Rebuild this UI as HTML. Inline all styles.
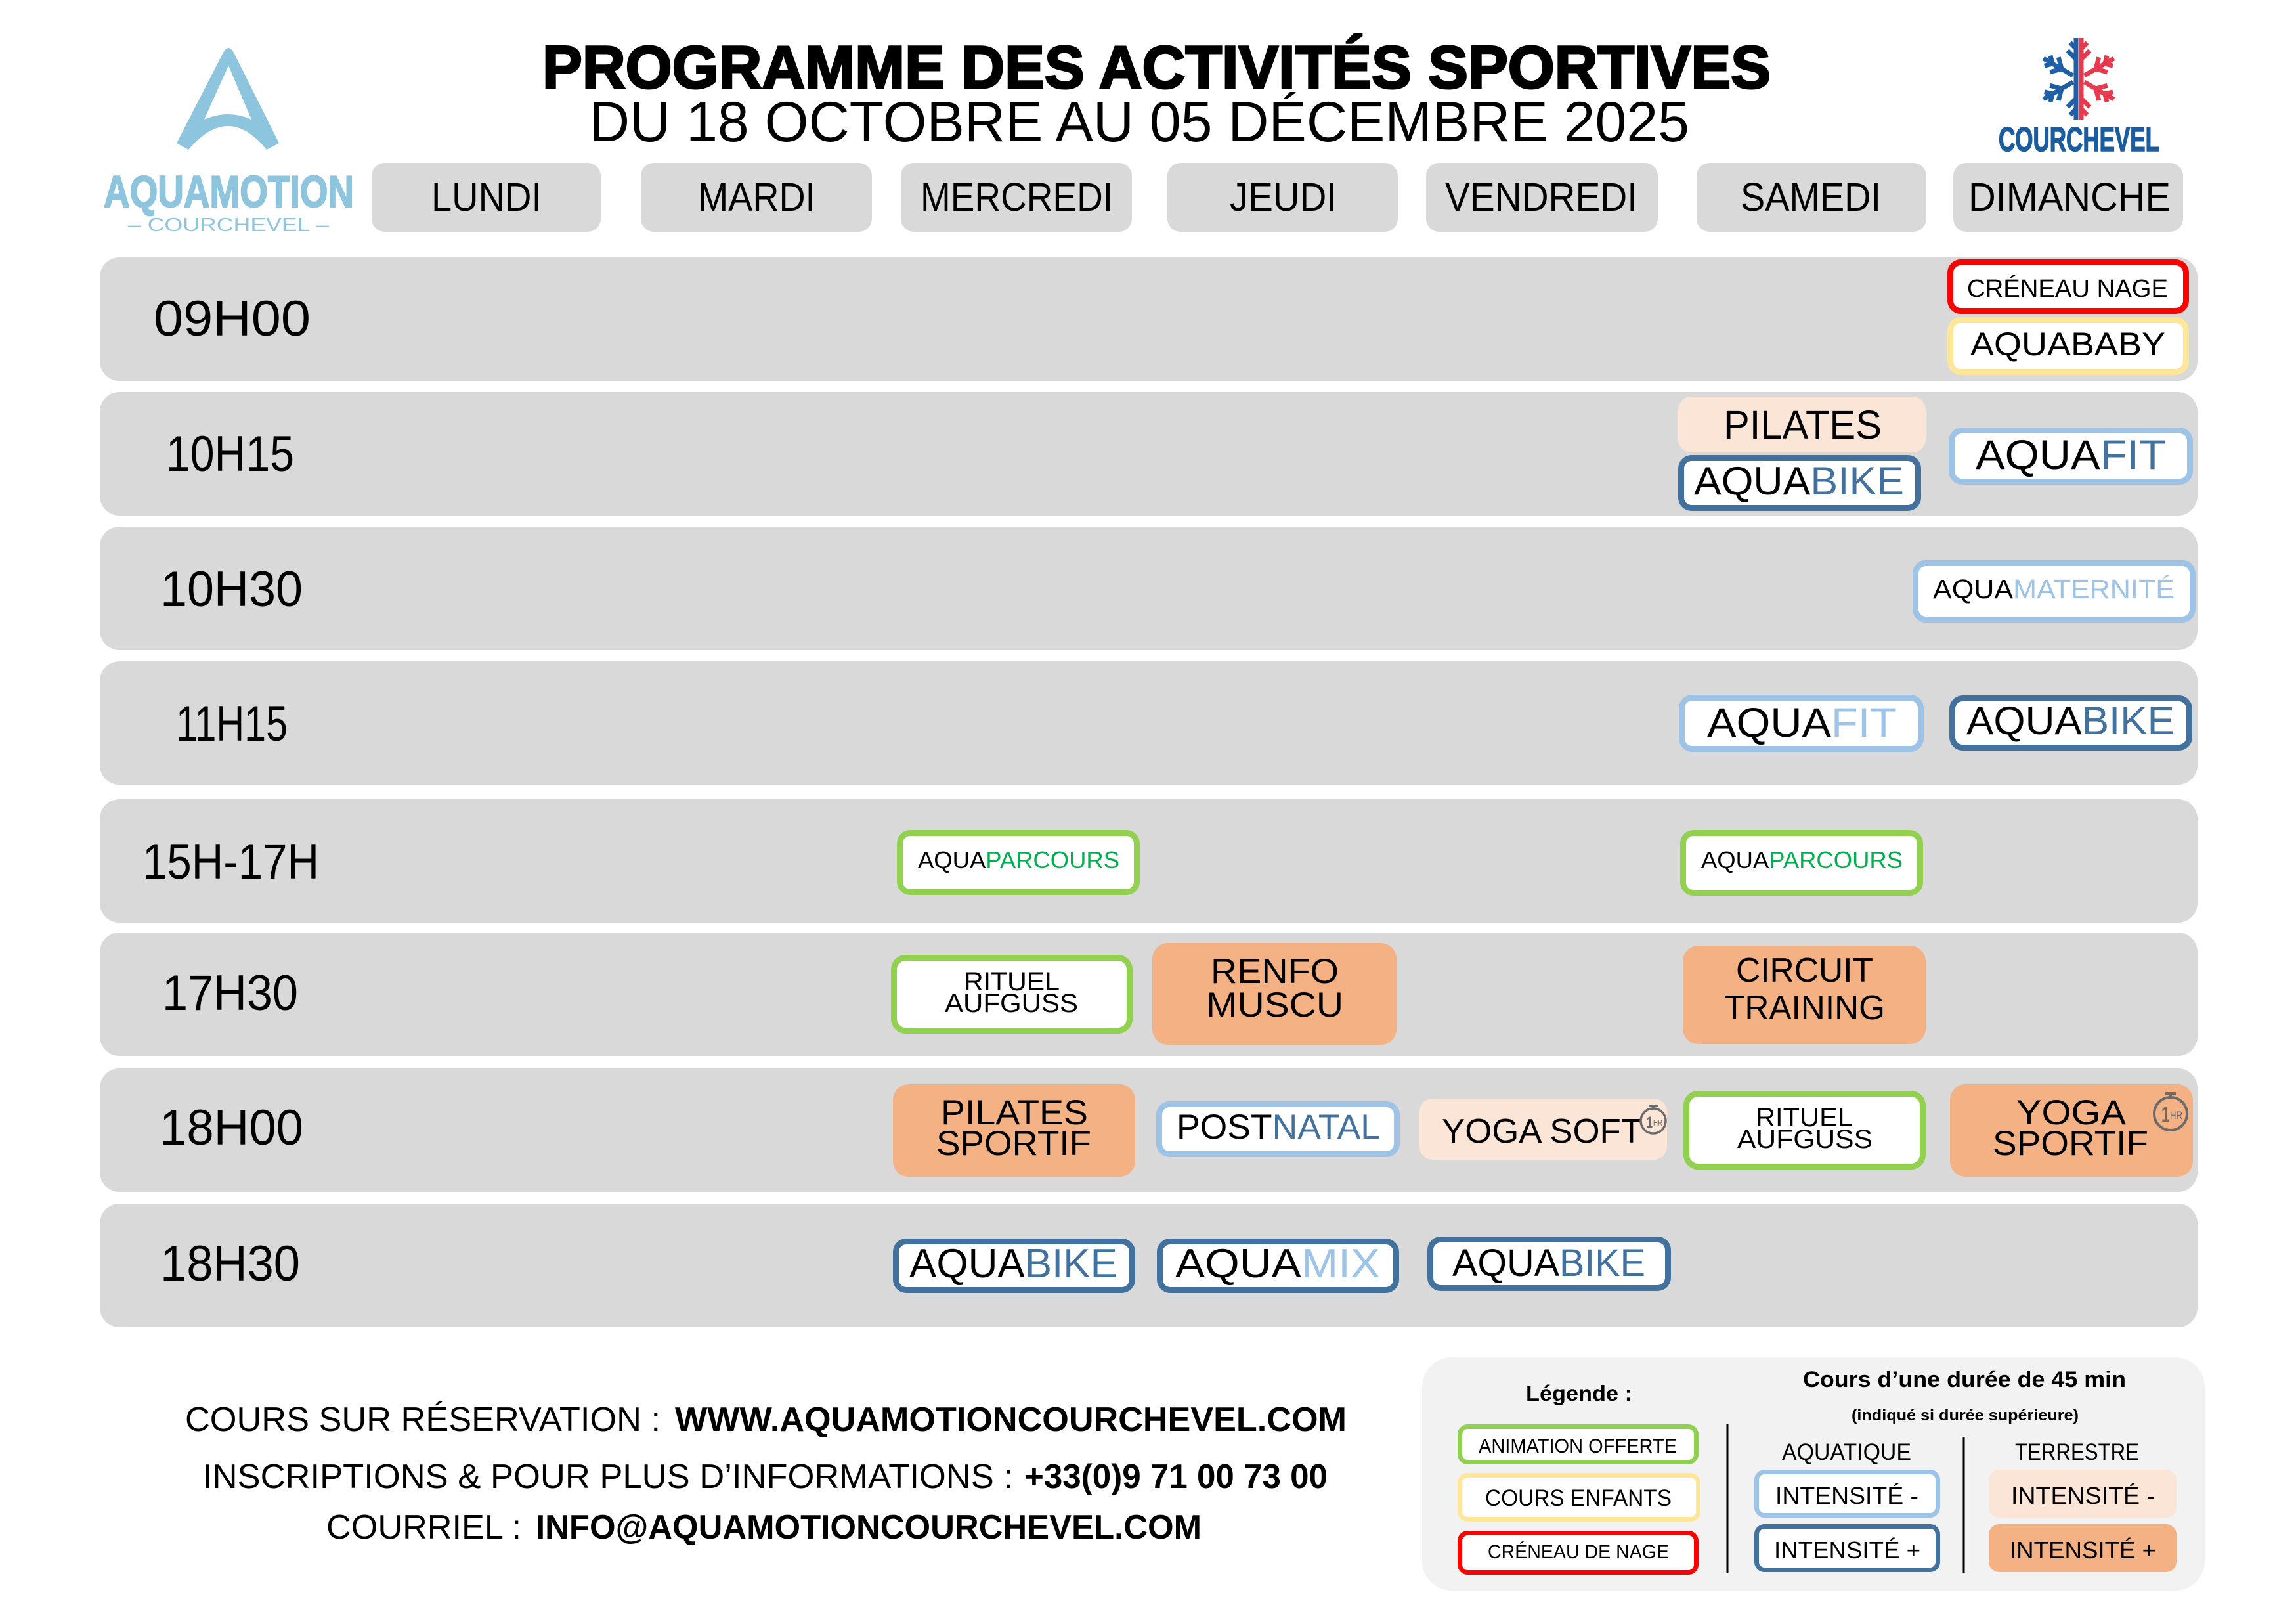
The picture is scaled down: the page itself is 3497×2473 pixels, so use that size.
<!DOCTYPE html>
<html>
<head>
<meta charset="utf-8">
<style>
html,body{margin:0;padding:0;background:#fff;}
svg{display:block;}
text{font-family:"Liberation Sans",Arial,sans-serif;}
</style>
</head>
<body>
<svg xmlns="http://www.w3.org/2000/svg" width="3497" height="2473" viewBox="0 0 3497 2473">
<rect x="0" y="0" width="3497" height="2473" fill="#ffffff"/>

<!-- AQUAMOTION logo -->
<path fill="#8ec5de" fill-rule="evenodd" d="M269,218 L340,80 Q348,66 356,80 L425,218 L406,228 Q348,156 287,228 Z M348,100 L383,182 Q348,166 311,182 Z"/>
<text x="158" y="315" font-size="68" font-weight="bold" fill="#8ec5de" stroke="#8ec5de" stroke-width="2" textLength="381" lengthAdjust="spacingAndGlyphs">AQUAMOTION</text>
<text x="195" y="352" font-size="29" fill="#8ec5de" textLength="306" lengthAdjust="spacingAndGlyphs">– COURCHEVEL –</text>

<!-- Title -->
<text x="826" y="134" font-size="92" font-weight="bold" fill="#000" stroke="#000" stroke-width="3" textLength="1871" lengthAdjust="spacingAndGlyphs">PROGRAMME DES ACTIVITÉS SPORTIVES</text>
<text x="897" y="215" font-size="86" fill="#000" textLength="1676" lengthAdjust="spacingAndGlyphs">DU 18 OCTOBRE AU 05 DÉCEMBRE 2025</text>

<!-- Courchevel logo -->
<g transform="translate(3166,120)" fill="none" stroke-width="7">
  <g stroke="#1f5fa5">
    <path d="M-4,-62 V62 M-4,-30 L-17,-43 M-4,-46 L-13,-55 M-4,30 L-17,43 M-4,46 L-13,55"/>
    <g transform="rotate(-60)"><path d="M0,-10 V-62 M0,-30 L-13,-43 M0,-30 L13,-43 M0,-46 L-9,-55 M0,-46 L9,-55"/></g>
    <g transform="rotate(-120)"><path d="M0,-10 V-62 M0,-30 L-13,-43 M0,-30 L13,-43 M0,-46 L-9,-55 M0,-46 L9,-55"/></g>
  </g>
  <g stroke="#e63a4f">
    <path d="M4,-62 V62 M4,-30 L17,-43 M4,-46 L13,-55 M4,30 L17,43 M4,46 L13,55"/>
    <g transform="rotate(60)"><path d="M0,-10 V-62 M0,-30 L-13,-43 M0,-30 L13,-43 M0,-46 L-9,-55 M0,-46 L9,-55"/></g>
    <g transform="rotate(120)"><path d="M0,-10 V-62 M0,-30 L-13,-43 M0,-30 L13,-43 M0,-46 L-9,-55 M0,-46 L9,-55"/></g>
  </g>
</g>
<text x="3044" y="230" font-size="52" font-weight="bold" fill="#1a5c9e" stroke="#1a5c9e" stroke-width="1.5" textLength="245" lengthAdjust="spacingAndGlyphs">COURCHEVEL</text>

<!-- Day headers -->
<g fill="#d9d9d9">
<rect x="566" y="248" width="349" height="105" rx="20"/>
<rect x="976" y="248" width="352" height="105" rx="20"/>
<rect x="1372" y="248" width="352" height="105" rx="20"/>
<rect x="1778" y="248" width="351" height="105" rx="20"/>
<rect x="2172" y="248" width="353" height="105" rx="20"/>
<rect x="2584" y="248" width="350" height="105" rx="20"/>
<rect x="2975" y="248" width="350" height="105" rx="20"/>
</g>
<g font-size="61" fill="#000">
<text x="657" y="321" textLength="168" lengthAdjust="spacingAndGlyphs">LUNDI</text>
<text x="1063" y="321" textLength="179" lengthAdjust="spacingAndGlyphs">MARDI</text>
<text x="1402" y="321" textLength="293" lengthAdjust="spacingAndGlyphs">MERCREDI</text>
<text x="1873" y="321" textLength="163" lengthAdjust="spacingAndGlyphs">JEUDI</text>
<text x="2201" y="321" textLength="293" lengthAdjust="spacingAndGlyphs">VENDREDI</text>
<text x="2651" y="321" textLength="214" lengthAdjust="spacingAndGlyphs">SAMEDI</text>
<text x="2998" y="321" textLength="308" lengthAdjust="spacingAndGlyphs">DIMANCHE</text>
</g>

<!-- Rows -->
<g fill="#d9d9d9">
<rect x="152" y="392" width="3195" height="188" rx="30"/>
<rect x="152" y="597" width="3195" height="188" rx="30"/>
<rect x="152" y="802" width="3195" height="188" rx="30"/>
<rect x="152" y="1007" width="3195" height="188" rx="30"/>
<rect x="152" y="1217" width="3195" height="188" rx="30"/>
<rect x="152" y="1420" width="3195" height="188" rx="30"/>
<rect x="152" y="1627" width="3195" height="188" rx="30"/>
<rect x="152" y="1833" width="3195" height="188" rx="30"/>
</g>
<g font-size="76" fill="#000">
<text x="234" y="511" textLength="239" lengthAdjust="spacingAndGlyphs">09H00</text>
<text x="253" y="717" textLength="195" lengthAdjust="spacingAndGlyphs">10H15</text>
<text x="244" y="923" textLength="217" lengthAdjust="spacingAndGlyphs">10H30</text>
<text x="268" y="1128" textLength="170" lengthAdjust="spacingAndGlyphs">11H15</text>
<text x="217" y="1338" textLength="269" lengthAdjust="spacingAndGlyphs">15H-17H</text>
<text x="247" y="1538" textLength="207" lengthAdjust="spacingAndGlyphs">17H30</text>
<text x="243" y="1743" textLength="219" lengthAdjust="spacingAndGlyphs">18H00</text>
<text x="244" y="1950" textLength="213" lengthAdjust="spacingAndGlyphs">18H30</text>
</g>

<!-- Row 1: 09H00 -->
<rect x="2970.5" y="399.5" width="359" height="74" rx="16" fill="#fff" stroke="#ff0000" stroke-width="9"/>
<text x="2996" y="452" font-size="38" fill="#000" textLength="306" lengthAdjust="spacingAndGlyphs">CRÉNEAU NAGE</text>
<rect x="2970.5" y="487.5" width="359" height="79" rx="16" fill="#fff" stroke="#ffe699" stroke-width="9"/>
<text x="3001" y="541" font-size="50" fill="#000" textLength="297" lengthAdjust="spacingAndGlyphs">AQUABABY</text>

<!-- Row 2: 10H15 -->
<rect x="2556" y="604" width="377" height="85" rx="20" fill="#fbe5d6"/>
<text x="2625" y="668" font-size="61" fill="#000" textLength="241" lengthAdjust="spacingAndGlyphs">PILATES</text>
<rect x="2560.5" y="697.5" width="361" height="76" rx="16" fill="#fff" stroke="#41719c" stroke-width="9"/>
<text x="2580" y="753" font-size="60" fill="#000" textLength="320" lengthAdjust="spacingAndGlyphs">AQUA<tspan fill="#41719c">BIKE</tspan></text>
<rect x="2972.5" y="655.5" width="363" height="78" rx="16" fill="#fff" stroke="#9dc3e6" stroke-width="9"/>
<text x="3009" y="714" font-size="63" fill="#000" textLength="290" lengthAdjust="spacingAndGlyphs">AQUA<tspan fill="#41719c">FIT</tspan></text>

<!-- Row 3: 10H30 -->
<rect x="2917.5" y="857.5" width="422" height="86" rx="16" fill="#fff" stroke="#9dc3e6" stroke-width="9"/>
<text x="2944" y="911" font-size="41" fill="#000" textLength="368" lengthAdjust="spacingAndGlyphs">AQUA<tspan fill="#9dc3e6">MATERNITÉ</tspan></text>

<!-- Row 4: 11H15 -->
<rect x="2561.5" y="1062.5" width="364" height="78" rx="16" fill="#fff" stroke="#9dc3e6" stroke-width="9"/>
<text x="2600" y="1122" font-size="63" fill="#000" textLength="289" lengthAdjust="spacingAndGlyphs">AQUA<tspan fill="#9dc3e6">FIT</tspan></text>
<rect x="2973.5" y="1063.5" width="361" height="75" rx="16" fill="#fff" stroke="#41719c" stroke-width="9"/>
<text x="2995" y="1118" font-size="60" fill="#000" textLength="317" lengthAdjust="spacingAndGlyphs">AQUA<tspan fill="#41719c">BIKE</tspan></text>

<!-- Row 5: 15H-17H -->
<rect x="1370.5" y="1268.5" width="361" height="90" rx="16" fill="#fff" stroke="#92d050" stroke-width="9"/>
<text x="1398" y="1322" font-size="36" fill="#000" textLength="307" lengthAdjust="spacingAndGlyphs">AQUA<tspan fill="#00b050">PARCOURS</tspan></text>
<rect x="2563.5" y="1268.5" width="361" height="91" rx="16" fill="#fff" stroke="#92d050" stroke-width="9"/>
<text x="2591" y="1322" font-size="36" fill="#000" textLength="307" lengthAdjust="spacingAndGlyphs">AQUA<tspan fill="#00b050">PARCOURS</tspan></text>

<!-- Row 6: 17H30 -->
<rect x="1361.5" y="1458.5" width="359" height="111" rx="18" fill="#fff" stroke="#92d050" stroke-width="9"/>
<text x="1468" y="1508" font-size="40" fill="#000" textLength="146" lengthAdjust="spacingAndGlyphs">RITUEL</text>
<text x="1439" y="1541" font-size="40" fill="#000" textLength="203" lengthAdjust="spacingAndGlyphs">AUFGUSS</text>
<rect x="1755" y="1436" width="372" height="155" rx="24" fill="#f4b183"/>
<text x="1844" y="1497" font-size="53" fill="#000" textLength="195" lengthAdjust="spacingAndGlyphs">RENFO</text>
<text x="1837" y="1548" font-size="53" fill="#000" textLength="209" lengthAdjust="spacingAndGlyphs">MUSCU</text>
<rect x="2563" y="1440" width="370" height="150" rx="24" fill="#f4b183"/>
<text x="2644" y="1495" font-size="52" fill="#000" textLength="209" lengthAdjust="spacingAndGlyphs">CIRCUIT</text>
<text x="2626" y="1552" font-size="52" fill="#000" textLength="245" lengthAdjust="spacingAndGlyphs">TRAINING</text>

<!-- Row 7: 18H00 -->
<rect x="1360" y="1651" width="369" height="141" rx="24" fill="#f4b183"/>
<text x="1433" y="1712" font-size="53" fill="#000" textLength="224" lengthAdjust="spacingAndGlyphs">PILATES</text>
<text x="1426" y="1759" font-size="53" fill="#000" textLength="236" lengthAdjust="spacingAndGlyphs">SPORTIF</text>
<rect x="1765.5" y="1681.5" width="362" height="76" rx="16" fill="#fff" stroke="#9dc3e6" stroke-width="9"/>
<text x="1792" y="1734" font-size="53" fill="#000" textLength="310" lengthAdjust="spacingAndGlyphs">POST<tspan fill="#41719c">NATAL</tspan></text>
<rect x="2162" y="1673" width="377" height="93" rx="20" fill="#fbe5d6"/>
<text x="2196" y="1740" font-size="52" fill="#000" textLength="305" lengthAdjust="spacingAndGlyphs">YOGA SOFT</text>
<g fill="none" stroke="#6b6b6b" stroke-width="3.5">
  <circle cx="2518" cy="1707" r="19"/>
  <path d="M2511,1684 h14 M2518,1684 v4"/>
</g>
<text x="2508" y="1717" font-size="24" font-weight="bold" fill="#6b6b6b" textLength="9" lengthAdjust="spacingAndGlyphs">1</text>
<text x="2518" y="1714" font-size="13" fill="#6b6b6b" textLength="14" lengthAdjust="spacingAndGlyphs">HR</text>
<rect x="2568.5" y="1665.5" width="360" height="111" rx="18" fill="#fff" stroke="#92d050" stroke-width="9"/>
<text x="2674" y="1715" font-size="40" fill="#000" textLength="148" lengthAdjust="spacingAndGlyphs">RITUEL</text>
<text x="2646" y="1748" font-size="40" fill="#000" textLength="206" lengthAdjust="spacingAndGlyphs">AUFGUSS</text>
<rect x="2970" y="1651" width="370" height="141" rx="24" fill="#f4b183"/>
<text x="3071" y="1712" font-size="53" fill="#000" textLength="167" lengthAdjust="spacingAndGlyphs">YOGA</text>
<text x="3035" y="1759" font-size="53" fill="#000" textLength="237" lengthAdjust="spacingAndGlyphs">SPORTIF</text>
<g fill="none" stroke="#6b6b6b" stroke-width="4">
  <circle cx="3306" cy="1696" r="25"/>
  <path d="M3298,1665 h16 M3306,1665 v6"/>
</g>
<text x="3292" y="1708" font-size="32" font-weight="bold" fill="#6b6b6b" textLength="12" lengthAdjust="spacingAndGlyphs">1</text>
<text x="3305" y="1704" font-size="17" fill="#6b6b6b" textLength="19" lengthAdjust="spacingAndGlyphs">HR</text>

<!-- Row 8: 18H30 -->
<rect x="1364.5" y="1890.5" width="360" height="74" rx="16" fill="#fff" stroke="#41719c" stroke-width="9"/>
<text x="1385" y="1945" font-size="62" fill="#000" textLength="317" lengthAdjust="spacingAndGlyphs">AQUA<tspan fill="#41719c">BIKE</tspan></text>
<rect x="1766.5" y="1890.5" width="360" height="74" rx="16" fill="#fff" stroke="#41719c" stroke-width="9"/>
<text x="1790" y="1945" font-size="62" fill="#000" textLength="312" lengthAdjust="spacingAndGlyphs">AQUA<tspan fill="#9dc3e6">MIX</tspan></text>
<rect x="2178.5" y="1887.5" width="362" height="74" rx="16" fill="#fff" stroke="#41719c" stroke-width="9"/>
<text x="2212" y="1943" font-size="58" fill="#000" textLength="294" lengthAdjust="spacingAndGlyphs">AQUA<tspan fill="#41719c">BIKE</tspan></text>

<!-- Bottom info -->
<g font-size="52" fill="#000">
<text x="282" y="2179" textLength="724" lengthAdjust="spacingAndGlyphs">COURS SUR RÉSERVATION :</text>
<text x="1028" y="2179" font-weight="bold" textLength="1023" lengthAdjust="spacingAndGlyphs">WWW.AQUAMOTIONCOURCHEVEL.COM</text>
<text x="309" y="2266" textLength="1234" lengthAdjust="spacingAndGlyphs">INSCRIPTIONS &amp; POUR PLUS D’INFORMATIONS :</text>
<text x="1560" y="2266" font-weight="bold" textLength="462" lengthAdjust="spacingAndGlyphs">+33(0)9 71 00 73 00</text>
<text x="497" y="2343" textLength="297" lengthAdjust="spacingAndGlyphs">COURRIEL :</text>
<text x="816" y="2343" font-weight="bold" textLength="1014" lengthAdjust="spacingAndGlyphs">INFO@AQUAMOTIONCOURCHEVEL.COM</text>
</g>

<!-- Legend -->
<rect x="2166" y="2067" width="1192" height="355" rx="45" fill="#f2f2f2"/>
<text x="2324" y="2133" font-size="33" font-weight="bold" fill="#000" textLength="162" lengthAdjust="spacingAndGlyphs">Légende :</text>
<text x="2746" y="2112" font-size="34" font-weight="bold" fill="#000" textLength="492" lengthAdjust="spacingAndGlyphs">Cours d’une durée de 45 min</text>
<text x="2820" y="2163" font-size="24" font-weight="bold" fill="#000" textLength="346" lengthAdjust="spacingAndGlyphs">(indiqué si durée supérieure)</text>
<line x1="2631" y1="2168" x2="2631" y2="2395" stroke="#000" stroke-width="3"/>
<line x1="2991" y1="2189" x2="2991" y2="2396" stroke="#000" stroke-width="3"/>
<text x="2714" y="2223" font-size="35" fill="#000" textLength="197" lengthAdjust="spacingAndGlyphs">AQUATIQUE</text>
<text x="3069" y="2223" font-size="35" fill="#000" textLength="189" lengthAdjust="spacingAndGlyphs">TERRESTRE</text>

<rect x="2223.5" y="2172.5" width="360" height="54" rx="12" fill="#fff" stroke="#92d050" stroke-width="7"/>
<text x="2252" y="2212" font-size="30" fill="#000" textLength="302" lengthAdjust="spacingAndGlyphs">ANIMATION OFFERTE</text>
<rect x="2223.5" y="2246.5" width="363" height="67" rx="12" fill="#fff" stroke="#ffe699" stroke-width="7"/>
<text x="2262" y="2293" font-size="35" fill="#000" textLength="284" lengthAdjust="spacingAndGlyphs">COURS ENFANTS</text>
<rect x="2223.5" y="2334.5" width="360" height="60" rx="12" fill="#fff" stroke="#ff0000" stroke-width="7"/>
<text x="2266" y="2373" font-size="30" fill="#000" textLength="276" lengthAdjust="spacingAndGlyphs">CRÉNEAU DE NAGE</text>

<rect x="2675.5" y="2241.5" width="276" height="66" rx="12" fill="#fff" stroke="#9dc3e6" stroke-width="7"/>
<text x="2704" y="2290" font-size="36" fill="#000" textLength="218" lengthAdjust="spacingAndGlyphs">INTENSITÉ -</text>
<rect x="2675.5" y="2324.5" width="276" height="66" rx="12" fill="#fff" stroke="#41719c" stroke-width="7"/>
<text x="2702" y="2373" font-size="36" fill="#000" textLength="223" lengthAdjust="spacingAndGlyphs">INTENSITÉ +</text>
<rect x="3029" y="2238" width="286" height="73" rx="16" fill="#fbe5d6"/>
<text x="3063" y="2290" font-size="36" fill="#000" textLength="219" lengthAdjust="spacingAndGlyphs">INTENSITÉ -</text>
<rect x="3029" y="2321" width="286" height="73" rx="16" fill="#f4b183"/>
<text x="3061" y="2373" font-size="36" fill="#000" textLength="223" lengthAdjust="spacingAndGlyphs">INTENSITÉ +</text>
</svg>
</body>
</html>
